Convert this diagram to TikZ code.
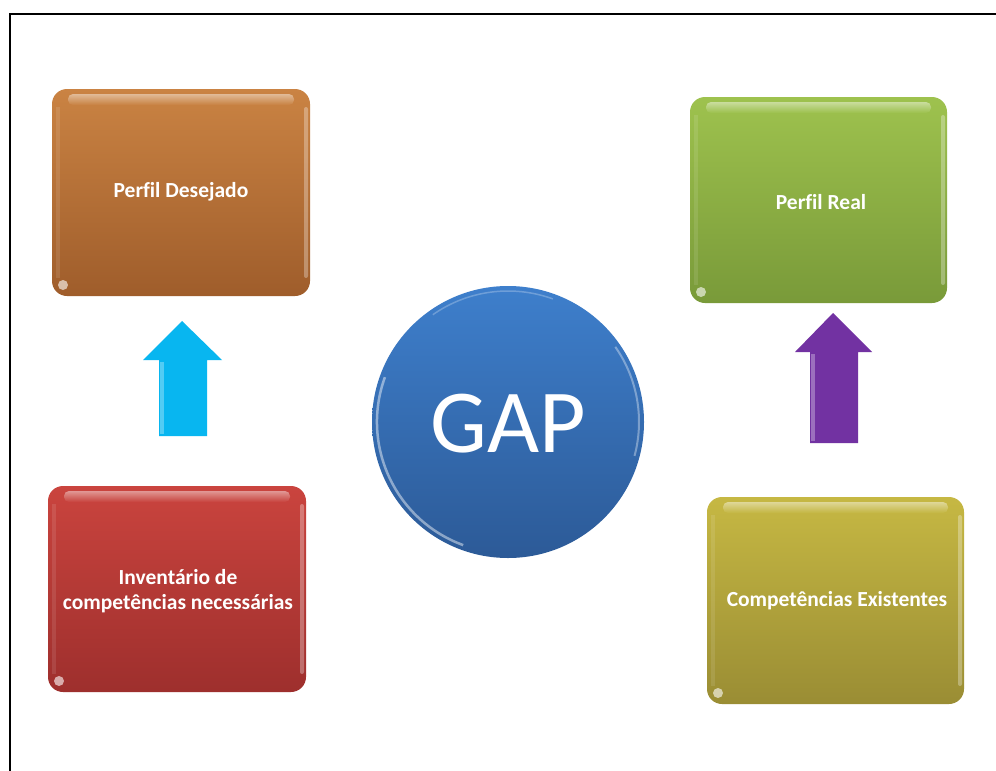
\documentclass[tikz,border=0pt]{standalone}
\usepackage{fontspec}
\setmainfont[Ligatures=NoCommon]{Carlito}
\usetikzlibrary{calc}
\begin{document}
\begin{tikzpicture}[x=1pt,y=-1pt,
  glossbox/.style={rounded corners=15pt},
  label/.style={text=white,font=\bfseries\fontsize{21.5}{26}\selectfont,align=center},
]
\definecolor{orTop}{HTML}{CA8343}\definecolor{orBot}{HTML}{9F5D2B}
\definecolor{grTop}{HTML}{9EC24E}\definecolor{grBot}{HTML}{799A39}
\definecolor{rdTop}{HTML}{CA443E}\definecolor{rdBot}{HTML}{9E2F2D}
\definecolor{olTop}{HTML}{C6B843}\definecolor{olBot}{HTML}{9A8D34}
\definecolor{blTop}{HTML}{3E7FCC}\definecolor{blBot}{HTML}{2C5A97}
\definecolor{cyanArrow}{HTML}{08B6F0}
\definecolor{purpleArrow}{HTML}{7232A2}

\useasboundingbox (0,0) rectangle (996,771);
\fill[white] (0,0) rectangle (996,771);

% open frame along the left and top
\draw[line width=2.5pt] (10,775) -- (10,14) -- (1000,14);

% glossy rounded box: #1 name, #2 x0, #3 y0, #4 x1, #5 y1, #6 top colour, #7 bottom colour
\newcommand\glossy[7]{%
  \shade[glossbox,top color=#6,bottom color=#7] (#2,#3) rectangle (#4,#5);
  \shade[rounded corners=5pt,top color=white,bottom color=#6,opacity=0.45] ($(#2,#3)+(16,5)$) rectangle ($(#4,#3)+(-16,16)$);
  \fill[white,opacity=0.3,rounded corners=2pt] ($(#4,#3)+(-6,18)$) rectangle ($(#4,#5)+(-2,-18)$);
  \fill[white,opacity=0.1] ($(#2,#3)+(4,18)$) rectangle ($(#2,#5)+(8,-18)$);
  \fill[white,opacity=0.6] ($(#2,#5)+(11,-11)$) circle (5pt);
  \node (#1) at ($(#2,#3)!0.5!(#4,#5)$) {};
}
\glossy{desejado}{52}{89}{310}{296}{orTop}{orBot}
\glossy{real}{690}{97}{947}{303}{grTop}{grBot}
\glossy{inventario}{48}{486}{306}{692}{rdTop}{rdBot}
\glossy{existentes}{707}{497}{964}{704}{olTop}{olBot}

\node[label] (tDesejado) at (181,192) {Perfil Desejado};
\node[label] (tReal) at (821,202) {Perfil Real};
\node[label] (tInventario) at (178,591) {Inventário de\\[-1pt]competências necessárias};
\node[label] (tExistentes) at (837,601) {Competências Existentes};

% central disc with light rims
\shade[top color=blTop,bottom color=blBot] (508,422) circle (136pt);
\draw[white,opacity=0.45,line width=2.5pt] (508,422) ++(110:131) arc (110:200:131);
\draw[white,opacity=0.35,line width=2pt] (508,422) ++(-35:131) arc (-35:15:131);
\draw[white,opacity=0.25,line width=1.5pt] (508,422) ++(235:131) arc (235:290:131);
\node[text=white,font=\fontsize{90}{100}\selectfont] (gap) at (508,424) {GAP};

% block arrows
\fill[cyanArrow] (182,321) -- (222,360) -- (207,360) -- (207,436) -- (159,436) -- (159,360) -- (143,360) -- cycle;
\fill[white,opacity=0.3] (160,362) rectangle (164,434);
\fill[purpleArrow] (833,313) -- (872,352) -- (858,352) -- (858,443) -- (810,443) -- (810,352) -- (795,352) -- cycle;
\fill[white,opacity=0.3] (811,354) rectangle (815,441);
\end{tikzpicture}
\end{document}
